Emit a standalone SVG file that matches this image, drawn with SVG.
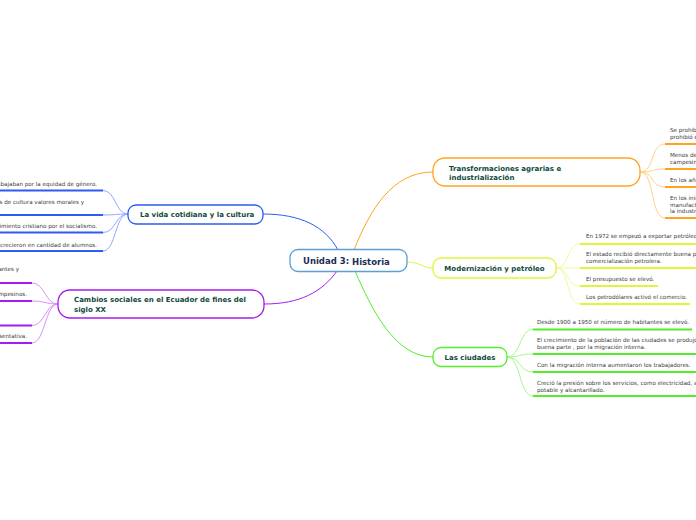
<svg xmlns="http://www.w3.org/2000/svg" width="696" height="520" viewBox="0 0 696 520">
<style>
.t{font-family:"DejaVu Sans",Verdana,sans-serif;font-size:5.6px;fill:#3a3a3a}
.n{font-family:"DejaVu Sans",Verdana,sans-serif;font-size:7px;font-weight:bold;fill:#0e4a3c}
.box{fill:#fff;stroke-width:1.3}
.c{fill:none;stroke-width:1}
.u{fill:none;stroke-width:2}
</style>
<rect width="696" height="520" fill="#fff"/>
<g id="connectors">
<path class="c" d="M338 250 C325 226 300 214 263 214" stroke="#2f5bf5" stroke-width="1.5"/>
<path class="c" d="M337 271 C322 292 300 304 264 304" stroke="#a51cf0" stroke-width="1.5"/>
<path class="c" d="M354 250 C370 210 392 172 433 172" stroke="#ffa31f" stroke-width="1.5"/>
<path class="c" d="M407 262 C420 262 422 268 433 268" stroke="#e0f53a" stroke-width="1.5"/>
<path class="c" d="M355 271 C372 310 395 357 433 357" stroke="#52ee2a" stroke-width="1.5"/>
<g stroke="#ffcf85">
<path class="c" d="M640 172 C655 172 650 144 665 144"/>
<path class="c" d="M640 172 C655 172 650 169 665 169"/>
<path class="c" d="M640 172 C655 172 650 187 665 187"/>
<path class="c" d="M640 172 C655 172 650 218 665 218"/>
</g>
<g stroke="#ffa31f">
<path class="u" d="M665 144 H696"/><path class="u" d="M665 169 H696"/><path class="u" d="M665 187 H696"/><path class="u" d="M665 218 H696"/>
</g>
<g stroke="#eefa99">
<path class="c" d="M556 268 C570 268 566 244 580 244"/>
<path class="c" d="M556 268 C570 268 566 268 580 268"/>
<path class="c" d="M556 268 C570 268 566 286 580 286"/>
<path class="c" d="M556 268 C570 268 566 304 580 304"/>
</g>
<g stroke="#e0f53a">
<path class="u" d="M580 244 H696"/><path class="u" d="M580 268 H696"/><path class="u" d="M580 286 H658"/><path class="u" d="M580 304 H690"/>
</g>
<g stroke="#a8f590">
<path class="c" d="M507 357 C521 357 519 329.5 533 329.5"/>
<path class="c" d="M507 357 C521 357 519 354 533 354"/>
<path class="c" d="M507 357 C521 357 519 372 533 372"/>
<path class="c" d="M507 357 C521 357 519 396 533 396"/>
</g>
<g stroke="#52ee2a">
<path class="u" d="M533 329.5 H692"/><path class="u" d="M533 354 H696"/><path class="u" d="M533 372 H696"/><path class="u" d="M533 396 H696"/>
</g>
<g stroke="#8fa8ff">
<path class="c" d="M128 214 C115 214 116 190.5 103 190.5"/>
<path class="c" d="M128 214 C115 214 116 215 103 215"/>
<path class="c" d="M128 214 C115 214 116 232.5 103 232.5"/>
<path class="c" d="M128 214 C115 214 116 251 103 251"/>
</g>
<g stroke="#2f5bf5">
<path class="u" d="M0 190.5 H103"/><path class="u" d="M0 215 H103"/><path class="u" d="M0 232.5 H103"/><path class="u" d="M0 251 H103"/>
</g>
<g stroke="#d590fa">
<path class="c" d="M58 304 C45 304 45 283 32 283"/>
<path class="c" d="M58 304 C45 304 45 301 32 301"/>
<path class="c" d="M58 304 C45 304 45 325.5 32 325.5"/>
<path class="c" d="M58 304 C45 304 45 343 32 343"/>
</g>
<g stroke="#a51cf0">
<path class="u" d="M0 283 H32"/><path class="u" d="M0 301 H32"/><path class="u" d="M0 325.5 H32"/><path class="u" d="M0 343 H32"/>
</g>
</g>
<g id="center">
<rect class="box" x="290" y="249.5" width="117" height="22" rx="8" stroke="#5a9fd6"/>
<text x="303" y="264" font-family="DejaVu Sans,Verdana,sans-serif" font-size="8.5" font-weight="bold" fill="#1c2d55">Unidad 3: <tspan dy="1">Historia</tspan></text>
</g>
<g id="vida">
<rect class="box" x="128" y="205" width="135" height="19" rx="8" stroke="#2f5bf5"/>
<text class="n" x="140" y="217">La vida cotidiana y la cultura</text>
<text class="t" x="97" y="185.5" text-anchor="end">abajaban por la equidad de género.</text>
<text class="t" x="84" y="203.5" text-anchor="end">as de cultura valores morales y</text>
<text class="t" x="97" y="228" text-anchor="end">vimiento cristiano por el socialismo.</text>
<text class="t" x="97" y="246.5" text-anchor="end">crecieron en cantidad de alumnos.</text>
</g>
<g id="cambios">
<rect class="box" x="58" y="290" width="206" height="28" rx="12" stroke="#a51cf0"/>
<text class="n" x="74" y="302">Cambios sociales en el Ecuador de fines del</text>
<text class="n" x="74" y="311.5">siglo XX</text>
<text class="t" x="19" y="271" text-anchor="end">antes y</text>
<text class="t" x="27" y="296" text-anchor="end">mpesinos.</text>
<text class="t" x="27" y="338" text-anchor="end">sentativa.</text>
</g>
<g id="transformaciones">
<rect class="box" x="433" y="158" width="207" height="28" rx="12" stroke="#ffa31f"/>
<text class="n" x="449" y="171">Transformaciones agrarias e</text>
<text class="n" x="449" y="180">industrialización</text>
<text class="t" x="670" y="132">Se prohibió</text>
<text class="t" x="670" y="138.5">prohibió el</text>
<text class="t" x="670" y="156.5">Menos de</text>
<text class="t" x="670" y="163.5">campesinos</text>
<text class="t" x="670" y="182">En los años</text>
<text class="t" x="670" y="200">En los inicios</text>
<text class="t" x="670" y="206.5">manufactura</text>
<text class="t" x="670" y="213">la industria</text>
</g>
<g id="modernizacion">
<rect class="box" x="433" y="258" width="123" height="20" rx="8" stroke="#e0f53a"/>
<text class="n" x="494.5" y="271" text-anchor="middle">Modernización y petróleo</text>
<text class="t" x="586" y="238">En 1972 se  empezó a exportar petróleo</text>
<text class="t" x="586" y="256">El estado recibió directamente buena parte</text>
<text class="t" x="586" y="262.5">comercialización petrolera.</text>
<text class="t" x="586" y="280.5">El presupuesto se elevó.</text>
<text class="t" x="586" y="298.5">Los petrodólares activó el comercio.</text>
</g>
<g id="ciudades">
<rect class="box" x="433" y="347.5" width="74" height="19" rx="8" stroke="#52ee2a"/>
<text class="n" x="470" y="359.5" text-anchor="middle">Las ciudades</text>
<text class="t" x="537" y="324">Desde 1900 a 1950 el número de habitantes se elevó.</text>
<text class="t" x="537" y="342">El crecimiento de la población  de las ciudades se produjo en</text>
<text class="t" x="537" y="349">buena parte , por la migración interna.</text>
<text class="t" x="537" y="367">Con la migración interna aumentaron los trabajadores.</text>
<text class="t" x="537" y="385">Creció la presión sobre los servicios, como electricidad, agua</text>
<text class="t" x="537" y="391.5">potable y alcantarillado.</text>
</g>
</svg>
